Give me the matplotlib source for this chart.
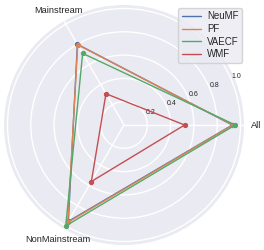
import numpy as np
import matplotlib
matplotlib.use("Agg")
import matplotlib.pyplot as plt
import seaborn as sns

sns.set_theme(style="darkgrid")
plt.rcParams['font.family'] = ['Liberation Sans', 'DejaVu Sans']

categories = ["All", "Mainstream", "NonMainstream"]
models = ["NeuMF", "PF", "VAECF", "WMF"]
neumf = [0.93, 0.80, 0.955]
pf = [0.935, 0.795, 0.965]
vaecf = [0.955, 0.71, 1.0]
wmf = [0.52, 0.31, 0.56]
series = [neumf, pf, vaecf, wmf]
rticks = [0.2, 0.4, 0.6, 0.8, 1.0]

fig = plt.figure(figsize=(2.64, 2.5), dpi=100)
ax = fig.add_axes([4/264, 5/250, 240/264, 240/250], polar=True)

angles = np.linspace(0, 2*np.pi, len(categories), endpoint=False)
closed = np.concatenate([angles, angles[:1]])
colors = sns.color_palette("deep")
for name, vals, c in zip(models, series, colors):
    v = list(vals) + [vals[0]]
    ax.plot(closed, v, color=c, linewidth=1.0, label=name)
    ax.plot(angles, vals, color=c, linestyle='none', marker='o', markersize=2.8)

ax.set_xticks(angles)
ax.set_xticklabels(categories, fontsize=6.7)
ax.tick_params(axis='x', pad=-4.5)
ax.set_ylim(0, 1.03)
ax.set_yticks(rticks)
ax.set_yticklabels([f"{t:.1f}" for t in rticks], fontsize=5)
ax.spines['polar'].set_visible(False)

leg = ax.legend(loc='upper right', bbox_to_anchor=(245/264, 1-5/250),
                bbox_transform=fig.transFigure, fontsize=7, frameon=True,
                handlelength=2.0, handletextpad=0.6, borderpad=0.35,
                labelspacing=0.28, borderaxespad=0.3)

fig.savefig("out.png", dpi=100)
